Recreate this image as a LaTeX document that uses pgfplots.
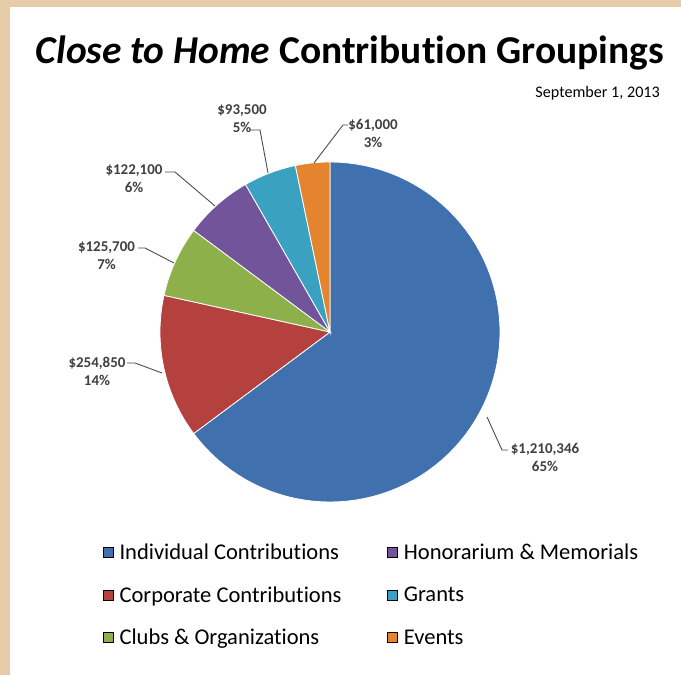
\documentclass[border=0pt]{standalone}
\usepackage{fontspec}
\setmainfont{Carlito}[Ligatures=NoCommon]
\usepackage{pgfplots}
\usepackage{pgfplotstable}
\pgfplotsset{compat=1.18}

\definecolor{cInd}{HTML}{4070AE}
\definecolor{cCorp}{HTML}{B5413E}
\definecolor{cClub}{HTML}{8DB04A}
\definecolor{cHon}{HTML}{72549A}
\definecolor{cGrant}{HTML}{3AA2C0}
\definecolor{cEvent}{HTML}{E5842F}
\definecolor{frame}{HTML}{E6CBA8}
\definecolor{lbl}{HTML}{404040}

% contributions, clockwise from 12 o'clock
\pgfplotstableread{
value   col
1210346 cInd
254850  cCorp
125700  cClub
122100  cHon
93500   cGrant
61000   cEvent
}\piedata

\begin{document}
\begin{tikzpicture}[x=1bp,y=1bp]
  \useasboundingbox (0,0) rectangle (681,675);
  \fill[frame] (0,0) rectangle (681,675);
  \fill[white] (10,0) rectangle (681,668);

  % total of all slices
  \def\total{0}
  \pgfplotsforeachungrouped \i in {0,...,5}{%
    \pgfplotstablegetelem{\i}{value}\of\piedata
    \edef\total{\fpeval{\total+\pgfplotsretval}}%
  }

  \begin{axis}[
    at={(330bp,343bp)}, anchor=origin,
    x=170bp, y=170bp,
    xmin=-1.05, xmax=1.05, ymin=-1.05, ymax=1.05,
    hide axis, clip=false,
    legend columns=2,
    legend cell align=left,
    legend image code/.code={\fill[#1] (0bp,-5bp) rectangle (10bp,5bp);},
    legend style={
      at={(-0.136,-0.09)}, anchor=north west,
      draw=none, fill=none, inner sep=0pt,
      font=\fontsize{22.6}{22.6}\selectfont,
      row sep=23.5bp,
      nodes={inner sep=1bp},
      /tikz/every odd column/.append style={column sep=5bp},
      /tikz/every even column/.append style={column sep=45bp},
    },
  ]
    \def\start{90}
    \pgfplotsforeachungrouped \i in {0,...,5}{%
      \pgfplotstablegetelem{\i}{value}\of\piedata \let\v\pgfplotsretval
      \pgfplotstablegetelem{\i}{col}\of\piedata \let\c\pgfplotsretval
      \edef\stop{\fpeval{\start-360*\v/\total}}%
      \edef\cmd{\noexpand\addplot[fill=\c, draw=white, line width=0.8pt,
        domain=\stop:\start, samples=80, forget plot]
        ({cos(x)},{sin(x)}) -- (axis cs:0,0) -- cycle;}%
      \cmd
      \global\let\start\stop
    }

    \addlegendimage{fill=cInd}
    \addlegendentry{Individual Contributions}
    \addlegendimage{fill=cHon}
    \addlegendentry{Honorarium \& Memorials}
    \addlegendimage{fill=cCorp}
    \addlegendentry{Corporate Contributions}
    \addlegendimage{fill=cGrant}
    \addlegendentry{Grants}
    \addlegendimage{fill=cClub}
    \addlegendentry{Clubs \& Organizations}
    \addlegendimage{fill=cEvent}
    \addlegendentry{Events}
  \end{axis}

  % titles
  \node[anchor=base, inner sep=0pt, font=\fontsize{39.6}{39.6}\selectfont\bfseries]
    at (350,611) {\itshape Close to Home\upshape\ Contribution Groupings};
  \node[anchor=base east, inner sep=0pt, font=\fontsize{16.2}{16.2}\selectfont]
    at (660,577) {September 1, 2013};

  % data labels with leader lines
  \begin{scope}[every node/.style={align=center, inner sep=0pt, text=lbl,
      font=\fontsize{15}{18}\selectfont\bfseries},
      leader/.style={draw=black!70, line width=0.9pt}]
    \node at (545,217.5) {\$1,210,346\\65\%};
    \draw[leader] (487,258) -- (502,225) -- (508,225);
    \node at (97,304) {\$254,850\\14\%};
    \draw[leader] (127,312) -- (135,312) -- (162,302);
    \node at (106.5,419.5) {\$125,700\\7\%};
    \draw[leader] (138,427) -- (145,427) -- (174,412);
    \node at (134,496.5) {\$122,100\\6\%};
    \draw[leader] (165,503) -- (175,503) -- (215,469);
    \node at (242,556) {\$93,500\\5\%};
    \draw[leader] (250,545) -- (260,545) -- (268,502);
    \node at (373,541.5) {\$61,000\\3\%};
    \draw[leader] (348,550) -- (343,550) -- (314,512);
  \end{scope}
\end{tikzpicture}
\end{document}
